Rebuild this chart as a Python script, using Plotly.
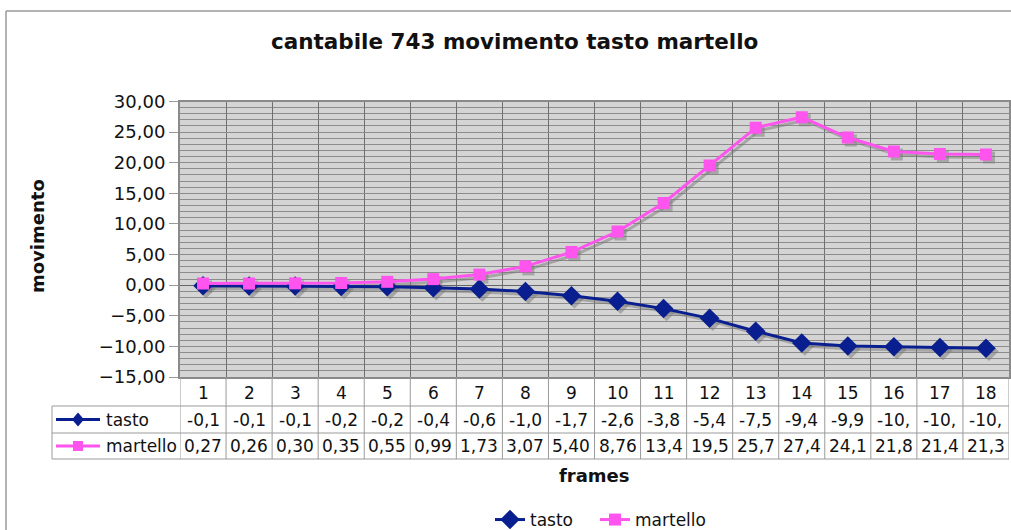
import plotly.graph_objects as go

# --- data -------------------------------------------------------------
frames = list(range(1, 19))
tasto = [-0.11, -0.12, -0.14, -0.21, -0.24, -0.42, -0.63, -1.04, -1.72,
         -2.63, -3.83, -5.42, -7.52, -9.43, -9.93, -10.05, -10.20, -10.32]
martello = [0.27, 0.26, 0.30, 0.35, 0.55, 0.99, 1.73, 3.07, 5.40,
            8.76, 13.42, 19.53, 25.71, 27.44, 24.12, 21.84, 21.43, 21.34]
y_ticks = [-15, -10, -5, 0, 5, 10, 15, 20, 25, 30]

W, H = 1011, 530
FONT = "DejaVu Sans"
BLUE = "#0a1f8f"
PINK = "#ff55ee"
SHADOW = "rgba(120,120,120,0.5)"


def px(x):
    return x / W


def py(y):
    return 1 - y / H


PLOT_L, PLOT_R, PLOT_T, PLOT_B = 180, 1009, 101.5, 377
TABLE_L, ROW1, ROW2, TABLE_B = 52, 406, 433, 459


def cell(v):
    # table cells are narrow: show the value with a comma and clip to 4 chars
    return f"{v:.2f}".replace(".", ",")[:4]


def label(x, y, text, font, xref="paper", **kw):
    d = dict(x=x, y=y, xref=xref, yref="paper", text=text, showarrow=False,
             xanchor="center", yanchor="middle", font=font)
    d.update(kw)
    return d


fig = go.Figure()

# drop shadows of the two series (offset a few pixels down and right)
dx = 3 / ((PLOT_R - PLOT_L) / 18)
dy = 3 / ((PLOT_B - PLOT_T) / 45)
for vals, sym, size in ((tasto, "diamond", 15), (martello, "square", 12)):
    fig.add_trace(go.Scatter(
        x=[f + dx for f in frames], y=[v - dy for v in vals],
        mode="lines+markers", showlegend=False, hoverinfo="skip",
        line=dict(color=SHADOW, width=3),
        marker=dict(symbol=sym, size=size, color=SHADOW),
    ))

fig.add_trace(go.Scatter(
    x=frames, y=tasto, name="tasto", mode="lines+markers", legend="legend",
    line=dict(color=BLUE, width=3),
    marker=dict(symbol="diamond", size=15, color=BLUE),
))
fig.add_trace(go.Scatter(
    x=frames, y=martello, name="martello", mode="lines+markers", legend="legend2",
    line=dict(color=PINK, width=3),
    marker=dict(symbol="square", size=12, color=PINK),
))

shapes = []
annotations = []

# outer chart frame (top and left edges)
shapes.append(dict(type="line", xref="paper", yref="paper",
                   x0=px(6), x1=1.0, y0=py(11), y1=py(11),
                   line=dict(color="#9a9a9a", width=1.5)))
shapes.append(dict(type="line", xref="paper", yref="paper",
                   x0=px(6), x1=px(6), y0=py(11), y1=0,
                   line=dict(color="#9a9a9a", width=1.5)))

# data table under the plot
TABLE_LINE = dict(color="#9a9a9a", width=1)
for b in [f - 0.5 for f in frames] + [frames[-1] + 0.5]:
    shapes.append(dict(type="line", xref="x", yref="paper",
                       x0=b, x1=b, y0=py(PLOT_B), y1=py(TABLE_B), line=TABLE_LINE))
for yy in (ROW1, ROW2, TABLE_B):
    shapes.append(dict(type="line", xref="paper", yref="paper",
                       x0=px(TABLE_L), x1=px(PLOT_R), y0=py(yy), y1=py(yy),
                       line=TABLE_LINE))
shapes.append(dict(type="line", xref="paper", yref="paper",
                   x0=px(TABLE_L), x1=px(TABLE_L), y0=py(ROW1), y1=py(TABLE_B),
                   line=TABLE_LINE))

cell_font = dict(family=FONT, size=17, color="#111111")
for f, t, m in zip(frames, tasto, martello):
    annotations.append(label(f, py((PLOT_B + ROW1) / 2 + 1), str(f), cell_font, xref="x"))
    annotations.append(label(f, py((ROW1 + ROW2) / 2), cell(t), cell_font, xref="x"))
    annotations.append(label(f, py((ROW2 + TABLE_B) / 2), cell(m), cell_font, xref="x"))

# series keys in the table's first column
for name, color, yy, marker in (("tasto", BLUE, (ROW1 + ROW2) / 2, "diamond"),
                                ("martello", PINK, (ROW2 + TABLE_B) / 2, "square")):
    shapes.append(dict(type="line", xref="paper", yref="paper",
                       x0=px(56), x1=px(100), y0=py(yy), y1=py(yy),
                       line=dict(color=color, width=3)))
    cx = 78
    if marker == "diamond":
        path = (f"M {px(cx)},{py(yy - 7)} L {px(cx + 6)},{py(yy)} "
                f"L {px(cx)},{py(yy + 7)} L {px(cx - 6)},{py(yy)} Z")
    else:
        path = (f"M {px(cx - 5)},{py(yy - 5)} L {px(cx + 5)},{py(yy - 5)} "
                f"L {px(cx + 5)},{py(yy + 5)} L {px(cx - 5)},{py(yy + 5)} Z")
    shapes.append(dict(type="path", xref="paper", yref="paper", path=path,
                       fillcolor=color, line=dict(color=color, width=0)))
    annotations.append(label(px(104), py(yy), name, cell_font, xanchor="left"))

# titles
annotations.append(label(px(514), py(42), "<b>cantabile 743 movimento tasto martello</b>",
                         dict(family=FONT, size=21.5, color="#111111")))
annotations.append(label(px(37), py(236), "<b>movimento</b>",
                         dict(family=FONT, size=18, color="#111111"), textangle=-90))
annotations.append(label(px(594), py(475), "<b>frames</b>",
                         dict(family=FONT, size=18, color="#111111")))

legend_style = dict(orientation="h", xanchor="left", y=py(520), yanchor="middle",
                    font=dict(family=FONT, size=17, color="#111111"),
                    bgcolor="rgba(0,0,0,0)")

fig.update_layout(
    width=W, height=H,
    margin=dict(l=0, r=0, t=0, b=0, pad=0, autoexpand=False),
    paper_bgcolor="white",
    plot_bgcolor="#d4d4d4",
    separators=",.",
    font=dict(family=FONT, color="#111111"),
    shapes=shapes,
    annotations=annotations,
    legend=dict(x=px(490), **legend_style),
    legend2=dict(x=px(595), **legend_style),
    xaxis=dict(
        domain=[px(PLOT_L), px(PLOT_R)], range=[0.5, 18.5],
        tickvals=[f - 0.5 for f in frames] + [frames[-1] + 0.5],
        showticklabels=False, ticks="", automargin=False,
        showgrid=True, gridcolor="#707070", gridwidth=1,
        zeroline=False, showline=True, mirror=True,
        linecolor="#8a8a8a", linewidth=2,
    ),
    yaxis=dict(
        domain=[py(PLOT_B), py(PLOT_T)], range=[-15, 30],
        tickvals=y_ticks, tickformat=".2f", automargin=False,
        ticks="outside", ticklen=9, tickcolor="#9a9a9a",
        tickfont=dict(family=FONT, size=18, color="#111111"),
        showgrid=True, gridcolor="#8c8c8c", gridwidth=1,
        minor=dict(dtick=1, showgrid=True, gridcolor="#8c8c8c", gridwidth=1),
        zeroline=True, zerolinecolor="#666666", zerolinewidth=1,
        showline=True, mirror=True, linecolor="#8a8a8a", linewidth=2,
    ),
)

fig.write_html("out.html")
